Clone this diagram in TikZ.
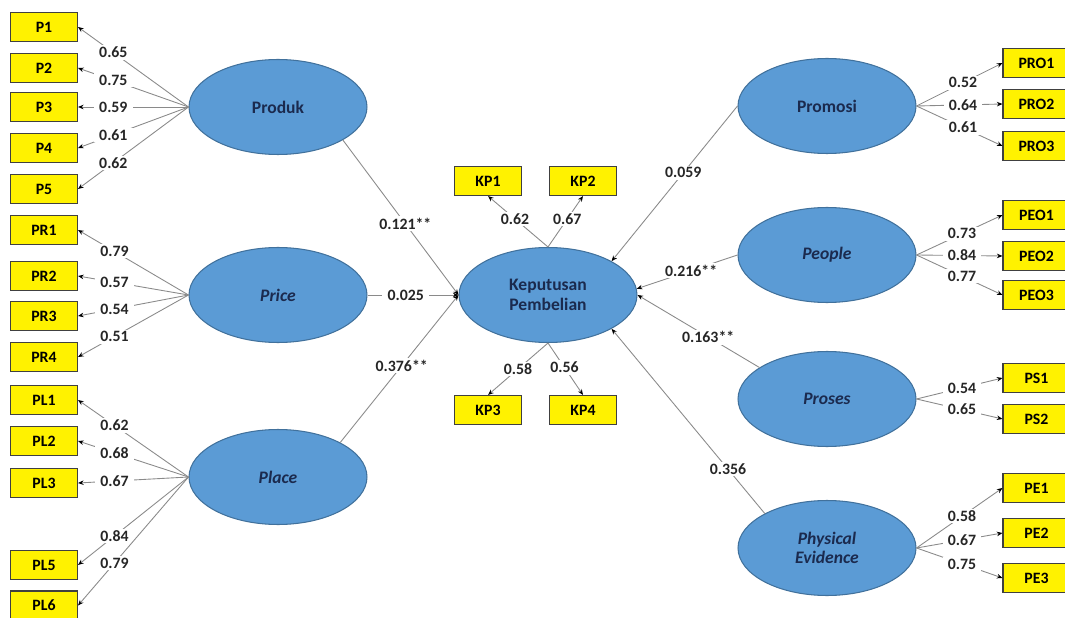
\documentclass[tikz,border=0pt]{standalone}
\usepackage{fontspec}
\setmainfont{Carlito}
\usetikzlibrary{positioning,arrows.meta,shapes.geometric}

\definecolor{lvblue}{HTML}{5B9BD5}
\definecolor{lvedge}{HTML}{41719C}
\definecolor{lvtext}{HTML}{1B2A4E}
\definecolor{pathgray}{HTML}{8A8A8A}

\tikzset{
  latent/.style={ellipse,draw=lvedge,fill=lvblue,line width=0.6pt,
    minimum width=3.56cm,minimum height=1.9cm,inner sep=0pt,align=center,
    text=lvtext,font=\fontsize{10}{11}\selectfont\bfseries},
  latentit/.style={latent,font=\fontsize{10}{11}\selectfont\bfseries\itshape},
  item/.style={draw=black!75,fill=yellow,line width=0.6pt,inner sep=0pt,
    minimum width=1.34cm,minimum height=0.58cm,font=\fontsize{9}{10}\selectfont\bfseries},
  load/.style={draw=pathgray,line width=0.5pt,-{Stealth[length=3.2pt,width=2.6pt,black]}},
  coef/.style={fill=white,inner xsep=3pt,inner ysep=1pt,text=black!85,
    font=\fontsize{9}{10}\selectfont\bfseries},
}

\begin{document}
\begin{tikzpicture}[x=0.02cm,y=-0.02cm]
  \useasboundingbox (0,0) rectangle (1065,618);
  % latent variables
  \node[latent]   (produk)  at (278,107) {Produk};
  \node[latentit] (price)   at (278,295) {Price};
  \node[latentit] (place)   at (278,477) {Place};
  \node[latent]   (kp)      at (548,295) {Keputusan\\Pembelian};
  \node[latent]   (promosi) at (827,106) {Promosi};
  \node[latentit] (people)  at (827,255) {People};
  \node[latentit] (proses)  at (827,399) {Proses};
  \node[latentit] (physev)  at (827,548) {Physical\\Evidence};

  % indicators, left
  \foreach \name/\yy/\val in {P1/27/0.65,P2/68/0.75,P3/107/0.59,P4/148/0.61,P5/189/0.62} {
    \node[item] (\name) at (44,\yy) {\name};
    \draw[load] (produk.west) -- node[coef,pos=0.68]{\val} (\name.east);
  }
  \foreach \name/\yy/\val in {PR1/230/0.79,PR2/276/0.57,PR3/316/0.54,PR4/357/0.51} {
    \node[item] (\name) at (44,\yy) {\name};
    \draw[load] (price.west) -- node[coef,pos=0.67]{\val} (\name.east);
  }
  \foreach \name/\yy/\val in {PL1/400/0.62,PL2/441/0.68,PL3/483/0.67,PL5/565/0.84,PL6/605.5/0.79} {
    \node[item] (\name) at (44,\yy) {\name};
    \draw[load] (place.west) -- node[coef,pos=0.67]{\val} (\name.east);
  }

  % indicators, right
  \foreach \name/\yy/\val in {PRO1/63/0.52,PRO2/104/0.64,PRO3/146/0.61} {
    \node[item] (\name) at (1036.5,\yy) {\name};
    \draw[load] (promosi.east) -- node[coef,pos=0.54]{\val} (\name.west);
  }
  \foreach \name/\yy/\val in {PEO1/215/0.73,PEO2/256/0.84,PEO3/295/0.77} {
    \node[item] (\name) at (1036.5,\yy) {\name};
    \draw[load] (people.east) -- node[coef,pos=0.53]{\val} (\name.west);
  }
  \foreach \name/\yy/\val in {PS1/378/0.54,PS2/419/0.65} {
    \node[item] (\name) at (1036.5,\yy) {\name};
    \draw[load] (proses.east) -- node[coef,pos=0.53]{\val} (\name.west);
  }
  \foreach \name/\yy/\val in {PE1/488/0.58,PE2/533/0.67,PE3/578/0.75} {
    \node[item] (\name) at (1036.5,\yy) {\name};
    \draw[load] (physev.east) -- node[coef,pos=0.53]{\val} (\name.west);
  }

  % indicators of the dependent variable
  \node[item] (KP1) at (488,181) {KP1};
  \node[item] (KP2) at (583,181) {KP2};
  \node[item] (KP3) at (488,410) {KP3};
  \node[item] (KP4) at (583,410) {KP4};
  \draw[load] (kp.north) -- node[coef,pos=0.55]{0.62} (KP1.south);
  \draw[load] (kp.north) -- node[coef,pos=0.55]{0.67} (KP2.south);
  \draw[load] (kp.south) -- node[coef,pos=0.5]{0.58} (KP3.north);
  \draw[load] (kp.south) -- node[coef,pos=0.47]{0.56} (KP4.north);

  % structural paths
  \draw[load] (produk.-27) -- node[coef,pos=0.54]{0.121**} (kp.west);
  \draw[load] (price.east) -- node[coef,pos=0.42]{0.025} (kp.west);
  \draw[load] (place.29) -- node[coef,pos=0.52]{0.376**} (kp.west);
  \draw[load] (promosi.west) -- node[coef,pos=0.43]{0.059} (kp.28);
  \draw[load] (people.west) -- node[coef,pos=0.46]{0.216**} (kp.4);
  \draw[load] (proses.155) -- node[coef,pos=0.42]{0.163**} (kp.east);
  \draw[load] (physev.151) -- node[coef,pos=0.24]{0.356} (kp.-28);
\end{tikzpicture}
\end{document}
